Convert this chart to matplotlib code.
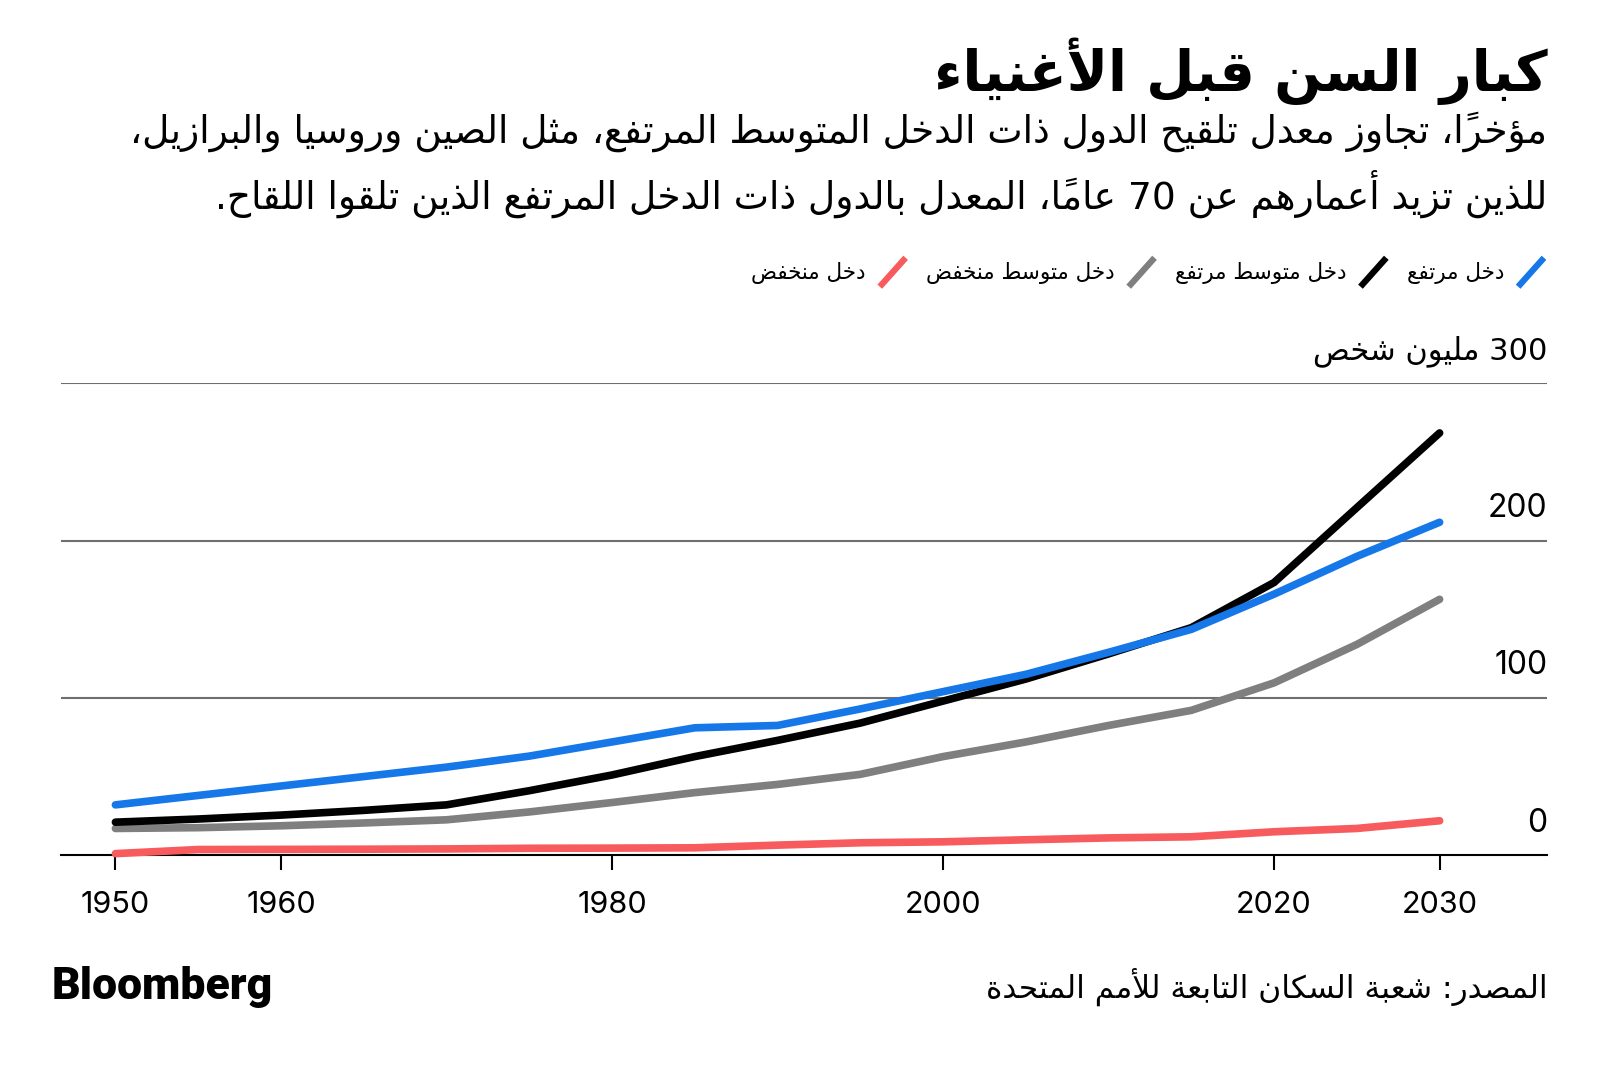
import matplotlib
matplotlib.use("Agg")
import matplotlib.pyplot as plt
from matplotlib.lines import Line2D
from matplotlib.legend_handler import HandlerBase

# --- data (million people aged 70+) ---
years = [1950, 1955, 1960, 1965, 1970, 1975, 1980, 1985, 1990, 1995,
         2000, 2005, 2010, 2015, 2020, 2025, 2030]
high = [32, 38, 44, 50, 56, 63, 72, 81, 82.5, 93,
        104, 115, 129, 143.6, 166, 190, 211.7]
upper_mid = [21, 23, 25.5, 28.5, 32, 41, 51, 62.7, 73, 84,
             98, 112, 128, 144.7, 173.4, 221, 268.5]
lower_mid = [17, 17.5, 18.7, 20.5, 22.5, 27.5, 33.5, 39.8, 45, 51.4,
             62.7, 72, 82.5, 92.1, 109.6, 134, 162.7]
low = [1, 3.6, 3.7, 3.8, 4, 4.4, 4.5, 4.7, 6.4, 7.9,
       8.5, 9.8, 11, 11.7, 14.9, 17, 21.9]

series_names = ["دخل مرتفع", "دخل متوسط مرتفع", "دخل متوسط منخفض", "دخل منخفض"]
series_colors = ["#1677e8", "#000000", "#7f7f7f", "#f75b5d"]

xticks = [1950, 1960, 1980, 2000, 2020, 2030]
yticks = [0, 100, 200, 300]
ylabels = ["0", "100", "200", "300 مليون شخص"]

title = "كبار السن قبل الأغنياء"
subtitle = ["مؤخراً، تجاوز معدل تلقيح الدول ذات الدخل المتوسط المرتفع، مثل الصين وروسيا والبرازيل،",
            "للذين تزيد أعمارهم عن 70 عاماً، المعدل بالدول ذات الدخل المرتفع الذين تلقوا اللقاح."]
source = "المصدر: شعبة السكان التابعة للأمم المتحدة"


# --- minimal arabic shaping (no raqm in matplotlib) ---
# letter -> (first presentation form, number of forms)
AR = {'ء': (0xFE80, 1), 'آ': (0xFE81, 2), 'أ': (0xFE83, 2), 'ؤ': (0xFE85, 2),
      'إ': (0xFE87, 2), 'ئ': (0xFE89, 4), 'ا': (0xFE8D, 2), 'ب': (0xFE8F, 4),
      'ة': (0xFE93, 2), 'ت': (0xFE95, 4), 'ث': (0xFE99, 4), 'ج': (0xFE9D, 4),
      'ح': (0xFEA1, 4), 'خ': (0xFEA5, 4), 'د': (0xFEA9, 2), 'ذ': (0xFEAB, 2),
      'ر': (0xFEAD, 2), 'ز': (0xFEAF, 2), 'س': (0xFEB1, 4), 'ش': (0xFEB5, 4),
      'ص': (0xFEB9, 4), 'ض': (0xFEBD, 4), 'ط': (0xFEC1, 4), 'ظ': (0xFEC5, 4),
      'ع': (0xFEC9, 4), 'غ': (0xFECD, 4), 'ف': (0xFED1, 4), 'ق': (0xFED5, 4),
      'ك': (0xFED9, 4), 'ل': (0xFEDD, 4), 'م': (0xFEE1, 4), 'ن': (0xFEE5, 4),
      'ه': (0xFEE9, 4), 'و': (0xFEED, 2), 'ى': (0xFEEF, 2), 'ي': (0xFEF1, 4)}
LAM_ALEF = {'آ': 0xFEF5, 'أ': 0xFEF7, 'إ': 0xFEF9, 'ا': 0xFEFB}


def ar(s):
    units = []
    for ch in s:
        if '\u064B' <= ch <= '\u0652' and units:
            units[-1][1] += ch
        else:
            units.append([ch, ''])
    glyphs = []
    i = 0
    while i < len(units):
        ch, marks = units[i]
        prev = units[i - 1][0] if i > 0 else ''
        nxt = units[i + 1][0] if i + 1 < len(units) else ''
        joins_prev = prev in AR and AR[prev][1] == 4
        if ch == 'ل' and nxt in LAM_ALEF:
            glyphs.append(chr(LAM_ALEF[nxt] + joins_prev) + marks + units[i + 1][1])
            i += 2
            continue
        if ch in AR:
            base, k = AR[ch]
            joins_next = k == 4 and nxt in AR
            if k == 1:
                form = 0
            elif joins_prev and joins_next:
                form = 3
            elif joins_prev:
                form = 1
            elif joins_next:
                form = 2
            else:
                form = 0
            glyphs.append(chr(base + form) + marks)
        else:
            glyphs.append(ch + marks)
        i += 1
    tokens = []
    for g in glyphs:
        if g.isascii() and g.isdigit() and tokens and tokens[-1].isascii() and tokens[-1].isdigit():
            tokens[-1] += g
        else:
            tokens.append(g)
    return ''.join(reversed(tokens))


class SlashHandler(HandlerBase):
    def create_artists(self, legend, orig, xd, yd, w, h, fs, trans):
        ln = Line2D([-xd + w * 0.1, -xd + w * 0.9], [-yd - h * 0.3, -yd + h * 1.2],
                    color=orig.get_color(), lw=4.5, solid_capstyle='butt', transform=trans)
        return [ln]


AR_FONT = 'DejaVu Sans'
plt.rcParams['font.family'] = ['Inter', 'DejaVu Sans']

fig = plt.figure(figsize=(16, 10.65), dpi=100)
ax = fig.add_axes([0.038, 0.197, 0.929, 0.443])

data = [high, upper_mid, lower_mid, low]
handles = []
for vals, name, col in reversed(list(zip(data, series_names, series_colors))):
    h, = ax.plot(years, vals, color=col, lw=5.5, solid_capstyle='round',
                 solid_joinstyle='round', clip_on=False, label=ar(name), zorder=3)
    handles.append(h)

ax.set_xlim(1946.7, 2036.5)
ax.set_ylim(0, 300)
for v in yticks[1:]:
    ax.axhline(v, color='#6f6f6f', lw=1.5, zorder=1)
for v, lab in zip(yticks, ylabels):
    ax.annotate(ar(lab), xy=(1, v), xycoords=('axes fraction', 'data'),
                xytext=(0, 23), textcoords='offset points', ha='right', va='center',
                fontsize=22 if v == 300 else 23,
                family=AR_FONT if v == 300 else ['Inter', 'DejaVu Sans'])

for s in ['top', 'right', 'left']:
    ax.spines[s].set_visible(False)
ax.spines['bottom'].set_linewidth(1.5)
ax.set_yticks([])
ax.set_xticks(xticks)
ax.set_xticklabels([str(x) for x in xticks], fontsize=22)
ax.tick_params(axis='x', direction='out', length=11, width=1.5, pad=15)

# legend (markers on the right, read right to left)
leg = fig.legend(handles=handles, loc='center right', bbox_to_anchor=(0.967, 0.744),
                 ncol=4, frameon=False, markerfirst=False, handler_map={Line2D: SlashHandler()},
                 handlelength=1.5, handleheight=1.0, handletextpad=0.5, columnspacing=0.8,
                 borderpad=0, borderaxespad=0,
                 prop={'family': AR_FONT, 'size': 15.5})

fig.text(0.967, 0.933, ar(title), ha='right', va='center', fontsize=40,
         fontweight='bold', family=AR_FONT)
fig.text(0.967, 0.876, ar(subtitle[0]), ha='right', va='center', fontsize=27, family=AR_FONT)
fig.text(0.967, 0.818, ar(subtitle[1]), ha='right', va='center', fontsize=27, family=AR_FONT)

fig.text(0.032, 0.073, "Bloomberg", ha='left', va='center', fontsize=32,
         fontweight='black', family=['Roboto', 'DejaVu Sans'])
fig.text(0.967, 0.073, ar(source), ha='right', va='center', fontsize=22.5, family=AR_FONT)

fig.savefig("out.png", dpi=100, facecolor='white')
